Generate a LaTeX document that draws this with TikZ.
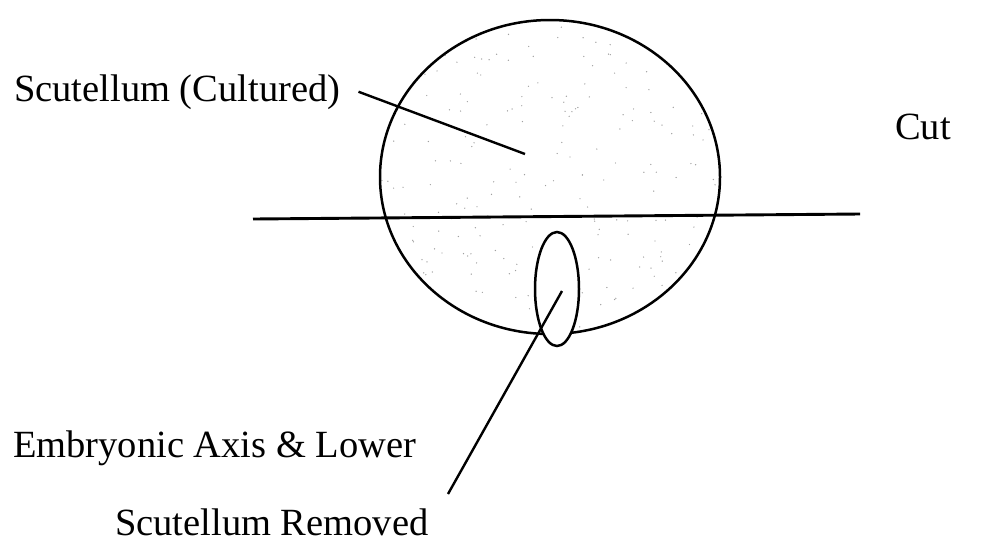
\documentclass[tikz,border=0pt]{standalone}
\usepackage{fontspec}
\setmainfont{Liberation Serif}
\usepackage{tikz}
\usetikzlibrary{calc}
\usepackage{xcolor}
\definecolor{stipplec}{HTML}{A0A0A0}

\begin{document}
\begin{tikzpicture}[x=1pt, y=-1pt,
  outlinec/.style={draw=black, line width=2.5pt},
  leaderc/.style={draw=black, line width=2.4pt},
  lbl/.style={font=\fontsize{38.5}{46}\selectfont, inner sep=0pt}]
  \useasboundingbox (0,0) rectangle (998,550);
  % scutellum, lightly stippled
  \coordinate (scut) at (550,177);
  \begin{scope}
    \clip (scut) ellipse [x radius=170, y radius=157];
    \pgfmathsetseed{11}
    \foreach \i in {1,...,240}
      \fill[stipplec] ($(scut)+(rand*170,rand*157)$) circle (0.7);
  \end{scope}
  \draw[outlinec] (scut) ellipse [x radius=170, y radius=157];
  % cut line
  \coordinate (cutl) at (253,219);
  \coordinate (cutr) at (860,214);
  \draw[outlinec, line width=2.9pt] (cutl) -- (cutr);
  % embryonic axis
  \coordinate (axis) at (557,289);
  \draw[outlinec, fill=white] (axis) ellipse [x radius=22, y radius=57];
  % labels
  \node[lbl, anchor=base west] (cultured) at (14,101) {Scutellum (Cultured)};
  \node[lbl, anchor=base west] (cut) at (895,139) {Cut};
  \node[lbl, anchor=base west] (embryo) at (13,457) {Embryonic Axis \& Lower};
  \node[lbl, anchor=base west] (removed) at (115,535) {Scutellum Removed};
  \coordinate (cultpt) at (525,154);
  \coordinate (axispt) at (562,291);
  \coordinate (embend) at (448,494);
  \draw[leaderc] ([xshift=18pt]cultured.east) -- (cultpt);
  \draw[leaderc] (axispt) -- (embend);
\end{tikzpicture}
\end{document}
